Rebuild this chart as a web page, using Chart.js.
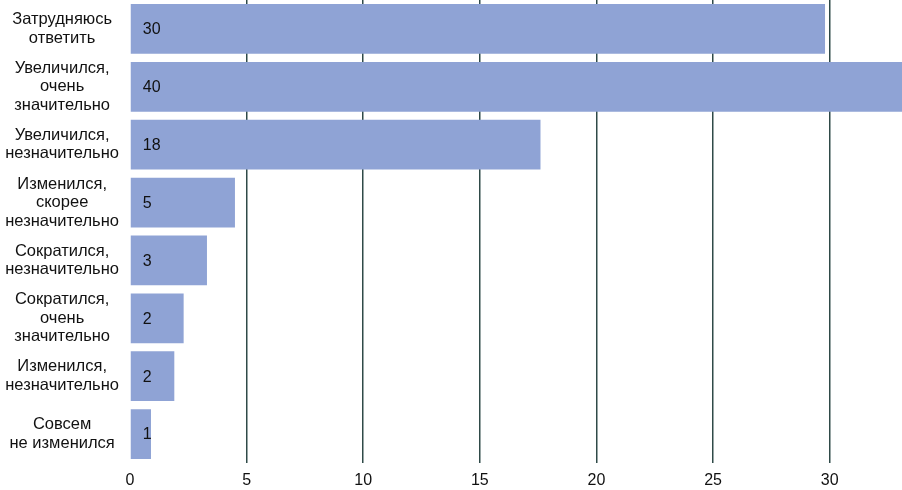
<!DOCTYPE html>
<html>
<head>
<meta charset="utf-8">
<script src="https://cdn.jsdelivr.net/npm/chart.js@4"></script>
<style>
  html, body { margin: 0; padding: 0; background: #fff; }
  #wrap { width: 902px; height: 490px; position: relative; }
</style>
</head>
<body>
<div id="wrap"><canvas id="myChart"></canvas></div>
<script>
// категории (подписи по оси Y)
const categories = [
  ["Затрудняюсь", "ответить"],
  ["Увеличился,", "очень", "значительно"],
  ["Увеличился,", "незначительно"],
  ["Изменился,", "скорее", "незначительно"],
  ["Сократился,", "незначительно"],
  ["Сократился,", "очень", "значительно"],
  ["Изменился,", "незначительно"],
  ["Совсем", "не изменился"]
];
// длины столбцов
const values = [29.8, 40, 17.6, 4.5, 3.3, 2.3, 1.9, 0.9];
// подписи внутри столбцов
const valueLabels = ["30", "40", "18", "5", "3", "2", "2", "1"];

const xMax = 33.1;
const fontFamily = "'Liberation Sans', Arial, sans-serif";

// свой маленький плагин для подписей значений
const barLabels = {
  id: "barLabels",
  afterDatasetsDraw(chart) {
    const ctx = chart.ctx;
    const meta = chart.getDatasetMeta(0);
    ctx.save();
    ctx.font = "16px " + fontFamily;
    ctx.fillStyle = "#111";
    ctx.textBaseline = "middle";
    ctx.textAlign = "left";
    meta.data.forEach((bar, i) => {
      ctx.fillText(valueLabels[i], bar.base + 12, bar.y + 1);
    });
    ctx.restore();
  }
};

const ctx = document.getElementById("myChart").getContext("2d");
new Chart(ctx, {
  type: "bar",
  data: {
    labels: categories,
    datasets: [{
      data: values,
      backgroundColor: "#8fa3d5",
      borderWidth: 0,
      categoryPercentage: 1,
      barPercentage: 0.86
    }]
  },
  options: {
    indexAxis: "y",
    responsive: true,
    maintainAspectRatio: false,
    animation: false,
    layout: { padding: 0 },
    plugins: {
      legend: { display: false },
      tooltip: { enabled: false }
    },
    scales: {
      x: {
        min: 0,
        max: xMax,
        border: { display: false },
        grid: {
          drawTicks: false,
          lineWidth: 1.5,
          color: (c) => (c.tick && c.tick.value === 0 ? "rgba(0,0,0,0)" : "#2f4a48")
        },
        afterFit: (scale) => {
          scale.height = 27;
        },
        ticks: {
          stepSize: 5,
          includeBounds: false,
          padding: 8,
          color: "#111",
          font: { family: fontFamily, size: 16 }
        }
      },
      y: {
        border: { display: false },
        grid: { display: false, drawTicks: false },
        afterFit: (scale) => {
          scale.width = 130;
          scale.paddingTop = 0;
          scale.paddingBottom = 0;
        },
        ticks: {
          autoSkip: false,
          crossAlign: "center",
          padding: 11,
          color: "#111",
          font: { family: fontFamily, size: 16.5, lineHeight: 1.12 }
        }
      }
    }
  },
  plugins: [barLabels]
});
</script>
</body>
</html>
